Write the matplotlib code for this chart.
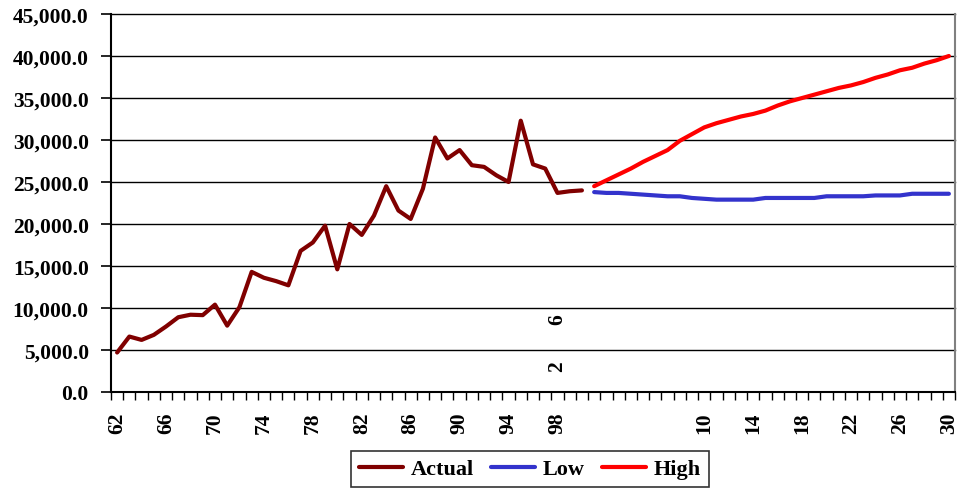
import matplotlib
matplotlib.use("Agg")
import matplotlib.pyplot as plt

# Category axis: one slot per year
years = list(range(1962, 2031))

actual_years = list(range(1962, 2001))
actual = [4700, 6600, 6200, 6800, 7800, 8900, 9200, 9150, 10400, 7900,
          10100, 14300, 13600, 13200, 12700, 16800, 17800, 19800, 14600, 20000,
          18700, 21000, 24500, 21600, 20600, 24200, 30300, 27800, 28800, 27000,
          26800, 25800, 25000, 32300, 27100, 26600, 23700, 23900, 24000]

proj_years = list(range(2001, 2031))
low = [23800, 23700, 23700, 23600, 23500, 23400, 23300, 23300, 23100, 23000,
       22900, 22900, 22900, 22900, 23100, 23100, 23100, 23100, 23100, 23300,
       23300, 23300, 23300, 23400, 23400, 23400, 23600, 23600, 23600, 23600]
high = [24500, 25200, 25900, 26600, 27400, 28100, 28800, 29900, 30700, 31500,
        32000, 32400, 32800, 33100, 33500, 34100, 34600, 35000, 35400, 35800,
        36200, 36500, 36900, 37400, 37800, 38300, 38600, 39100, 39500, 40000]

series_names = ["Actual", "Low", "High"]
series_colors = ["#800000", "#3333CC", "#FF0000"]

label_years = years[::4]
y_ticks = list(range(0, 45001, 5000))

FONT = "Liberation Serif"
plt.rcParams["font.family"] = [FONT, "DejaVu Serif"]
plt.rcParams["font.weight"] = "bold"

fig = plt.figure(figsize=(9.57, 4.89), dpi=100)
W, H = 957, 489
ax = fig.add_axes([111 / W, 1 - 393 / H, (955 - 111) / W, (393 - 15) / H])

def idx(yrs):
    return [years.index(y) for y in yrs]

lines = []
for xs, ys, name, col in [(actual_years, actual, series_names[0], series_colors[0]),
                          (proj_years, low, series_names[1], series_colors[1]),
                          (proj_years, high, series_names[2], series_colors[2])]:
    ln, = ax.plot(idx(xs), ys, color=col, lw=3.0, label=name,
                  solid_joinstyle="round", solid_capstyle="round", zorder=3)
    lines.append(ln)

ax.set_xlim(-0.5, len(years) - 0.5)
ax.set_ylim(0, 45000)

# horizontal gridlines
for v in y_ticks[1:]:
    ax.axhline(v, color="black", lw=1.0, zorder=1, clip_on=False)

ax.set_yticks(y_ticks)
ax.set_yticklabels([f"{v:,.1f}" for v in y_ticks])
ax.tick_params(axis="y", length=7, width=1.2, pad=9, labelsize=15.5)

# category labels every fourth year; 02 and 06 are drawn inside the plot
major_pos, major_lab = [], []
for y in label_years:
    if y in (2002, 2006):
        continue
    major_pos.append(years.index(y))
    major_lab.append(f"{y % 100:02d}")
ax.set_xticks(major_pos)
ax.set_xticklabels(major_lab, rotation=90)
ax.set_xticks([i - 0.5 for i in range(len(years) + 1)], minor=True)
ax.tick_params(axis="x", which="major", length=0, pad=14, labelsize=15.5)
ax.tick_params(axis="x", which="minor", length=6, width=1.0)
for lab in ax.get_xticklabels():
    lab.set_verticalalignment("top")

for y, yv in [(2002, 3100), (2006, 8700)]:
    ax.text(years.index(1998), yv, str(y % 100), rotation=90, ha="center",
            va="center", fontsize=15.5, fontweight="bold")

for s in ["left", "bottom"]:
    ax.spines[s].set_color("black")
    ax.spines[s].set_linewidth(1.5)
ax.spines["top"].set_visible(False)
ax.spines["right"].set_color("#808080")
ax.spines["right"].set_linewidth(1.5)

leg = fig.legend(handles=lines, labels=series_names, loc="upper left",
                 bbox_to_anchor=(351 / W, 1 - 452 / H), ncol=3, frameon=True,
                 fancybox=False, edgecolor="black", fontsize=16,
                 handlelength=2.0, handletextpad=0.35, columnspacing=0.75,
                 borderpad=0.35, borderaxespad=0)
leg.get_frame().set_linewidth(1.2)
for t in leg.get_texts():
    t.set_fontweight("bold")

fig.savefig("out.png", dpi=100)
